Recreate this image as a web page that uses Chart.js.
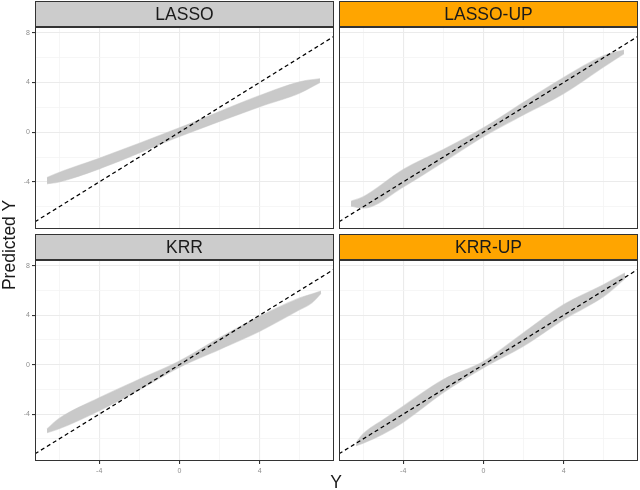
<!DOCTYPE html>
<html>
<head>
<meta charset="utf-8">
<script src="https://cdn.jsdelivr.net/npm/chart.js@4.4.1/dist/chart.umd.min.js"></script>
<style>
  html, body { margin: 0; padding: 0; background: #ffffff; width: 640px; height: 490px; overflow: hidden; }
  canvas { position: absolute; }
  .axtitle { position: absolute; font-family: "Liberation Sans", Arial, Helvetica, sans-serif; font-size: 17.5px;
             color: #1a1a1a; white-space: nowrap; text-align: center; height: 20px; line-height: 20px; }
</style>
</head>
<body>
<canvas id="c0" width="334" height="236" style="left:0px;top:1px;width:334px;height:236px"></canvas>
<canvas id="c1" width="299" height="236" style="left:339px;top:1px;width:299px;height:236px"></canvas>
<canvas id="c2" width="334" height="240" style="left:0px;top:234px;width:334px;height:240px"></canvas>
<canvas id="c3" width="299" height="240" style="left:339px;top:234px;width:299px;height:240px"></canvas>
<div class="axtitle" style="left:-91px;top:235px;width:200px;transform:rotate(-90deg);">Predicted Y</div>
<div class="axtitle" style="left:316px;top:472px;width:40px;">Y</div>
<script>
// ---------------- data ----------------
const panelNames  = ["LASSO", "LASSO-UP", "KRR", "KRR-UP"];
const stripColors = ["#cccccc", "#ffa500", "#cccccc", "#ffa500"];

const xTicks      = [-6, -4, -2, 0, 2, 4, 6];
const xTickLabels = [-4, 0, 4];
const yTicks      = [-6, -4, -2, 0, 2, 4, 6, 8];
const yTickLabels = [-4, 0, 4, 8];
const xLimits     = [-7.2, 7.7];
const yLimits     = [-7.78, 8.45];

// y = x reference line (dashed)
const identityX = [-7.2, 7.7];

// point cloud envelopes (lower / upper edge of the grey band)
const lassoX     = [-6.6, -6.0, -4.0, 0.0, 4.0, 6.0, 7.0];
const lassoLower = [-4.15, -4.0, -2.95, -0.35, 2.05, 3.15, 4.0];
const lassoUpper = [-3.65, -3.25, -2.1, 0.35, 2.95, 4.05, 4.3];

const lassoUpX     = [-6.6, -6.0, -4.0, -2.0, 0.0, 2.0, 4.0, 6.0, 7.0];
const lassoUpLower = [-5.95, -6.1, -4.4, -2.4, -0.35, 1.4, 3.1, 5.25, 6.3];
const lassoUpUpper = [-5.55, -5.2, -3.0, -1.4, 0.35, 2.4, 4.4, 6.15, 6.6];

const krrX     = [-6.6, -6.0, -4.0, -2.0, 0.0, 2.0, 4.0, 6.0, 6.6, 7.05];
const krrLower = [-5.5, -5.18, -3.72, -2.02, -0.2, 1.23, 2.7, 4.45, 5.0, 5.75];
const krrUpper = [-5.2, -4.35, -2.68, -1.18, 0.3, 2.17, 3.9, 5.39, 5.7, 5.95];

const krrUpX     = [-6.35, -6.0, -5.0, -4.0, -2.0, 0.0, 2.0, 4.0, 6.0, 7.05];
const krrUpLower = [-6.55, -6.35, -5.6, -4.65, -2.25, -0.25, 1.5, 3.65, 5.52, 6.95];
const krrUpUpper = [-6.3, -5.6, -4.45, -3.35, -1.2, 0.25, 2.58, 4.85, 6.47, 7.4];

// ---------------- drawing ----------------
const FONT = '"Liberation Sans", Arial, Helvetica, sans-serif';
const pts = (xs, ys) => xs.map((x, i) => ({ x: x, y: ys[i] }));

const stripPlugin = {
  id: 'strip',
  beforeDraw(chart, args, opts) {
    const ctx = chart.ctx, ca = chart.chartArea, tb = chart.titleBlock;
    if (!tb) return;
    const x0 = Math.round(ca.left), x1 = Math.round(ca.right);
    const y0 = Math.round(tb.top), y1 = Math.round(tb.bottom);
    ctx.save();
    ctx.fillStyle = opts.color;
    ctx.fillRect(x0, y0, x1 - x0, y1 - y0);
    ctx.strokeStyle = '#333333';
    ctx.lineWidth = 1;
    ctx.strokeRect(x0 + 0.5, y0 + 0.5, x1 - x0 - 1, y1 - y0 - 1);
    ctx.restore();
  },
  afterDraw(chart) {
    const ctx = chart.ctx, ca = chart.chartArea;
    const x0 = Math.round(ca.left), x1 = Math.round(ca.right);
    const y0 = Math.round(ca.top), y1 = Math.round(ca.bottom);
    ctx.save();
    ctx.strokeStyle = '#333333';
    ctx.lineWidth = 1;
    ctx.strokeRect(x0 + 0.5, y0 + 0.5, x1 - x0 - 1, y1 - y0 - 1);
    ctx.restore();
  }
};

function makePanel(id, idx, xs, lo, hi, showY, showX) {
  const isMajor = c => [-4, 0, 4, 8].includes(c.tick && c.tick.value);
  const gridColor = c => (isMajor(c) ? '#ebebeb' : '#f4f4f4');
  const gridWidth = c => (isMajor(c) ? 1.1 : 0.8);
  return new Chart(document.getElementById(id), {
    type: 'line',
    data: {
      datasets: [
        { data: pts(identityX, identityX), borderColor: '#000000', borderWidth: 1.25, borderDash: [4, 3],
          pointRadius: 0, fill: false, tension: 0 },
        { data: pts(xs, lo), borderColor: 'rgba(200,200,200,0.55)', borderWidth: 1.2, pointRadius: 0,
          fill: false, cubicInterpolationMode: 'monotone' },
        { data: pts(xs, hi), borderColor: 'rgba(200,200,200,0.55)', borderWidth: 1.2, pointRadius: 0,
          fill: '-1', backgroundColor: '#c9c9c9', cubicInterpolationMode: 'monotone' }
      ]
    },
    options: {
      responsive: false,
      animation: false,
      events: [],
      layout: { padding: 0 },
      plugins: {
        legend: { display: false },
        tooltip: { enabled: false },
        title: { display: true, text: panelNames[idx], fullSize: false, color: '#1a1a1a',
                 font: { family: FONT, size: 17.5, weight: 'normal', lineHeight: 1 },
                 padding: { top: 5, bottom: 3.5 } },
        strip: { color: stripColors[idx] }
      },
      scales: {
        x: {
          type: 'linear', min: xLimits[0], max: xLimits[1],
          afterBuildTicks: s => { s.ticks = xTicks.map(v => ({ value: v })); },
          afterFit: s => { s.height = showX ? 13 : 8; },
          ticks: { display: showX, autoSkip: false, maxRotation: 0, padding: 3, color: '#8c8c8c',
                   font: { family: FONT, size: 7 },
                   callback: v => (xTickLabels.includes(v) ? String(v) : '') },
          grid: { color: gridColor, lineWidth: gridWidth, drawTicks: showX, tickLength: 3,
                  tickColor: c => (xTickLabels.includes(c.tick && c.tick.value) ? '#333333' : 'rgba(0,0,0,0)') },
          border: { display: false }
        },
        y: {
          type: 'linear', min: yLimits[0], max: yLimits[1],
          afterBuildTicks: s => { s.ticks = yTicks.map(v => ({ value: v })); },
          afterFit: s => { s.width = showY ? 35 : 0; },
          ticks: { display: showY, autoSkip: false, padding: 2, color: '#8c8c8c',
                   font: { family: FONT, size: 7 },
                   callback: v => (yTickLabels.includes(v) ? String(v) : '') },
          grid: { color: gridColor, lineWidth: gridWidth, drawTicks: showY, tickLength: 3,
                  tickColor: c => (yTickLabels.includes(c.tick && c.tick.value) ? '#333333' : 'rgba(0,0,0,0)') },
          border: { display: false }
        }
      }
    },
    plugins: [stripPlugin]
  });
}

makePanel('c0', 0, lassoX, lassoLower, lassoUpper, true, false);
makePanel('c1', 1, lassoUpX, lassoUpLower, lassoUpUpper, false, false);
makePanel('c2', 2, krrX, krrLower, krrUpper, true, true);
makePanel('c3', 3, krrUpX, krrUpLower, krrUpUpper, false, true);
</script>
</body>
</html>
